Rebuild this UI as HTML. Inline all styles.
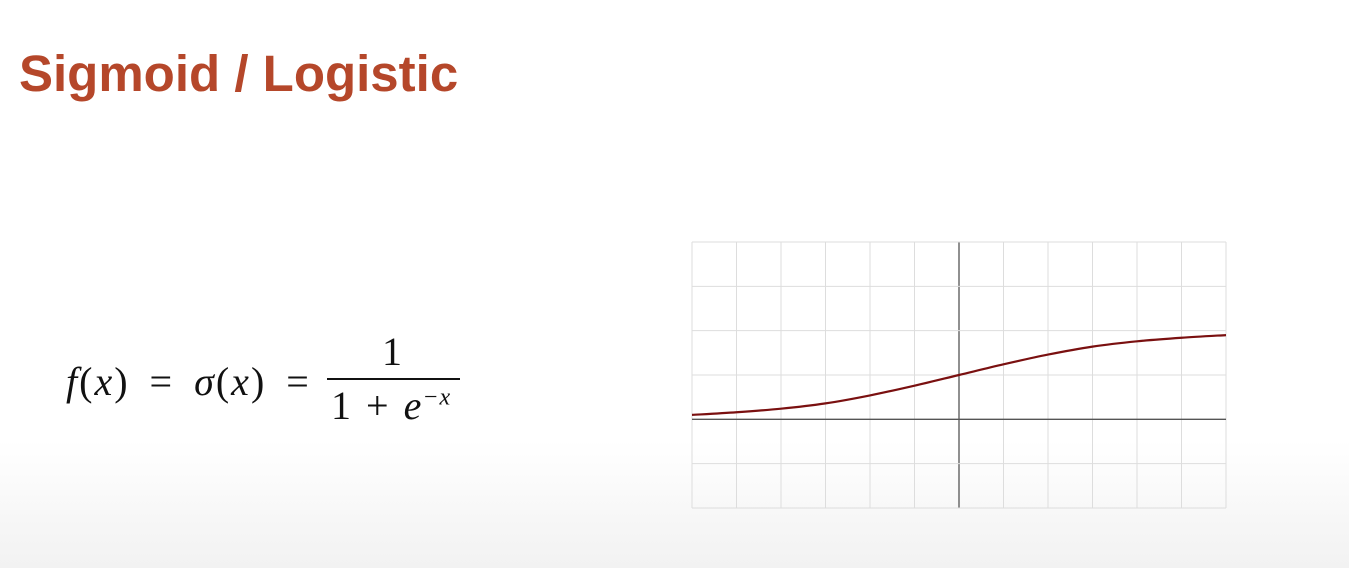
<!DOCTYPE html>
<html><head><meta charset="utf-8">
<style>
html,body{margin:0;padding:0;}
body{width:1349px;height:568px;position:relative;overflow:hidden;
background:linear-gradient(#fff 0,#fff 440px,#f2f2f2 568px);font-family:"Liberation Sans",sans-serif;}
#title{position:absolute;left:19px;top:44px;font-weight:bold;font-size:51px;letter-spacing:0px;color:#b5472a;white-space:nowrap;}
.m{position:absolute;font-family:"Liberation Serif","DejaVu Serif",serif;font-size:40px;color:#111;white-space:nowrap;letter-spacing:2px;word-spacing:8px;}
i{font-style:italic}
</style></head><body>
<div id="title">Sigmoid / Logistic</div>
<div class="m" style="left:66px;top:358px;"><i>f</i>(<i>x</i>) = <i>σ</i>(<i>x</i>) =</div>
<div class="m" style="left:382px;top:328px;">1</div>
<div style="position:absolute;left:327px;top:378px;width:133px;height:2px;background:#111;"></div>
<div class="m" style="left:331px;top:382px;word-spacing:3px;letter-spacing:1px;">1 + <i>e</i><sup style="font-size:24px;"><i>−x</i></sup></div>
<svg id="chart" width="1349" height="568" style="position:absolute;left:0;top:0;"></svg>
<script>
const xTicks=[-3,-2.5,-2,-1.5,-1,-0.5,0,0.5,1,1.5,2,2.5,3];
const yTicks=[-1,-0.5,0,0.5,1,1.5,2];
const xs=[-3,-2.5,-2,-1.5,-1,-0.5,0,0.5,1,1.5,2,2.5,3];
const ys=[0.05,0.08,0.12,0.18,0.27,0.38,0.5,0.62,0.73,0.82,0.88,0.92,0.95];
const L=692,R=1226,T=242,B=508;
const sx=v=>L+(v+3)/6*(R-L);
const sy=v=>B-(v+1)/3*(B-T);
const svg=document.getElementById('chart');
const NS='http://www.w3.org/2000/svg';
function mk(t,a){const e=document.createElementNS(NS,t);for(const k in a)e.setAttribute(k,a[k]);svg.appendChild(e);return e;}
xTicks.forEach(v=>{const e=mk('line',{x1:sx(v),x2:sx(v),y1:T,y2:B,stroke:v===0?'#555':'#ddd','stroke-width':v===0?1.3:1});

});
yTicks.forEach(v=>{const e=mk('line',{x1:L,x2:R,y1:sy(v),y2:sy(v),stroke:v===0?'#555':'#ddd','stroke-width':v===0?1.3:1});

});
const P=xs.map((x,i)=>[sx(x),sy(ys[i])]);
let d='M'+P[0][0]+','+P[0][1];
for(let i=0;i<P.length-1;i++){const p0=P[i-1]||P[i],p1=P[i],p2=P[i+1],p3=P[i+2]||p2;
d+=` C${p1[0]+(p2[0]-p0[0])/6},${p1[1]+(p2[1]-p0[1])/6} ${p2[0]-(p3[0]-p1[0])/6},${p2[1]-(p3[1]-p1[1])/6} ${p2[0]},${p2[1]}`;}
const c=mk('path',{d:d,fill:'none',stroke:'#7a1010','stroke-width':2.2});


</script>
</body></html>
